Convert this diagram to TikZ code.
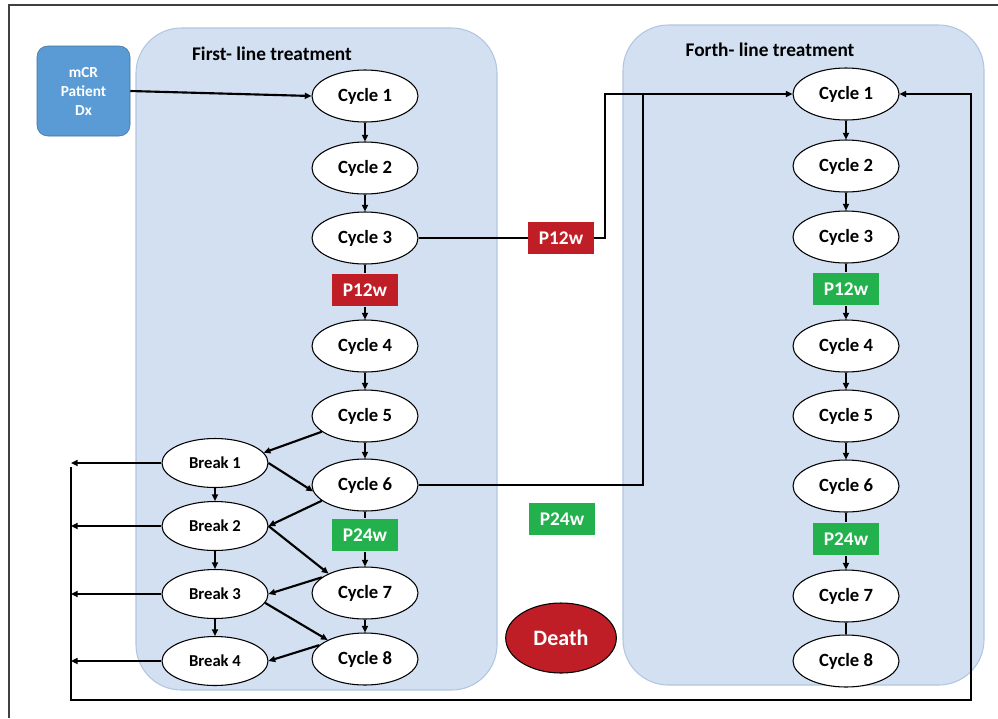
\documentclass[tikz,border=0pt]{standalone}
\usepackage{fontspec}
\setmainfont{Carlito}
\usetikzlibrary{arrows.meta,shapes.geometric}
\definecolor{panelblue}{RGB}{210,224,241}
\definecolor{paneledge}{RGB}{178,198,226}
\definecolor{dxblue}{RGB}{91,155,213}
\definecolor{dxedge}{RGB}{65,113,156}
\definecolor{tagred}{RGB}{192,30,38}
\definecolor{taggreen}{RGB}{34,177,76}
\begin{document}
\begin{tikzpicture}[x=0.75pt,y=-0.75pt,
        cyc/.style={ellipse,draw=black,line width=0.8pt,fill=white,inner sep=0pt,
            minimum width=79.5pt,minimum height=39pt,
            font=\bfseries\fontsize{14}{16}\selectfont},
        brk/.style={cyc,minimum height=36.75pt,font=\bfseries\fontsize{12.5}{14}\selectfont},
        tag/.style={rectangle,inner sep=0pt,minimum width=49.5pt,minimum height=24.5pt,
            text=white,font=\bfseries\fontsize{14.5}{16}\selectfont},
        panel/.style={draw=paneledge,line width=0.8pt,fill=panelblue,rounded corners=34pt},
        ttl/.style={font=\bfseries\fontsize{14.5}{16}\selectfont},
        ln/.style={line width=1.6pt},
        arr/.style={ln,-{Triangle[length=5pt,width=4.5pt]}}]
    \useasboundingbox (0,0) rectangle (998,718);
    \draw[black!75,line width=0.8pt] (9,718) -- (9,5) -- (998,5);
    \draw[panel] (136,28) rectangle (497,690);
    \draw[panel] (623,25) rectangle (984,685);
    \node[ttl] (first) at (272,54) {First- line treatment};
    \node[ttl] (forth) at (770,50) {Forth- line treatment};
    \node[
        draw=dxedge,
        fill=dxblue,
        rounded corners=8pt,
        minimum width=69.75pt,
        minimum height=67.5pt,
        align=center,
        text=white,
        font=\bfseries\fontsize{11.5}{14.25}\selectfont
    ] (dx) at (83.5,91) {mCR\\Patient\\Dx};
    \foreach \n/\y in {1/96,2/168,3/238,4/346,5/416,6/485,7/593,8/659}
        \node[cyc] (L\n) at (365,\y) {Cycle \n};
    \foreach \n/\y in {1/94,2/166,3/237,4/346,5/416,6/486,7/596,8/661}
        \node[cyc] (R\n) at (846,\y) {Cycle \n};
    \foreach \n/\y in {1/463,2/526,3/594,4/661}
        \node[brk] (B\n) at (215,\y) {Break \n};
    \node[tag,fill=tagred] (pL12) at (365,290) {P12w};
    \node[tag,fill=tagred] (pM12) at (561,238) {P12w};
    \node[tag,fill=taggreen] (pR12) at (846,289) {P12w};
    \node[tag,fill=taggreen] (pL24) at (365,535) {P24w};
    \node[tag,fill=taggreen] (pM24) at (562,519) {P24w};
    \node[tag,fill=taggreen] (pR24) at (846,539) {P24w};
    \node[
        ellipse,
        draw=black,
        line width=0.8pt,
        fill=tagred,
        minimum width=83pt,
        minimum height=52.5pt,
        text=white,
        font=\bfseries\fontsize{16.5}{18}\selectfont
    ] (death) at (561,638) {Death};
    \coordinate (lp) at (71,467);
    \coordinate (rp) at (971,700);
    \coordinate (ja) at (605,94);
    \coordinate (jb) at (643,94);
    \draw[arr] (dx.east) -- (L1.west);
    \foreach \a/\b in {1/2,2/3,4/5,5/6} {
        \draw[arr] (L\a) -- (L\b);
        \draw[arr] (R\a) -- (R\b);
    }
    \draw[arr] (L7) -- (L8);
    \draw[ln] (R7) -- (R8);
    \draw[ln] (L3) -- (pL12);
    \draw[arr] (pL12) -- (L4);
    \draw[ln] (L6) -- (pL24);
    \draw[arr] (pL24) -- (L7);
    \draw[ln] (R3) -- (pR12);
    \draw[arr] (pR12) -- (R4);
    \draw[ln] (R6) -- (pR24);
    \draw[arr] (pR24) -- (R7);
    \draw[arr] (L5.200) -- (B1.12);
    \draw[arr] (B1.east) -- (L6.187);
    \draw[arr] (L6.200) -- (B2.east);
    \draw[arr] (B2.east) -- (L7.152);
    \draw[arr] (L7.160) -- (B3.east);
    \draw[arr] (B3.350) -- (L8.153);
    \draw[arr] (L8.163) -- (B4.east);
    \foreach \a/\b in {1/2,2/3,3/4}
        \draw[arr] (B\a) -- (B\b);
    \foreach \n in {1,2,3,4}
        \draw[arr] (B\n.west) -- (B\n.west -| lp);
    \draw[arr] (lp) |- (rp) |- (R1.east);
    \draw[ln] (L3.east) -- (pM12.west);
    \draw[arr] (pM12.east) -| (ja) -- (R1.west);
    \draw[ln] (L6.east) -| (jb);
\end{tikzpicture}
\end{document}
